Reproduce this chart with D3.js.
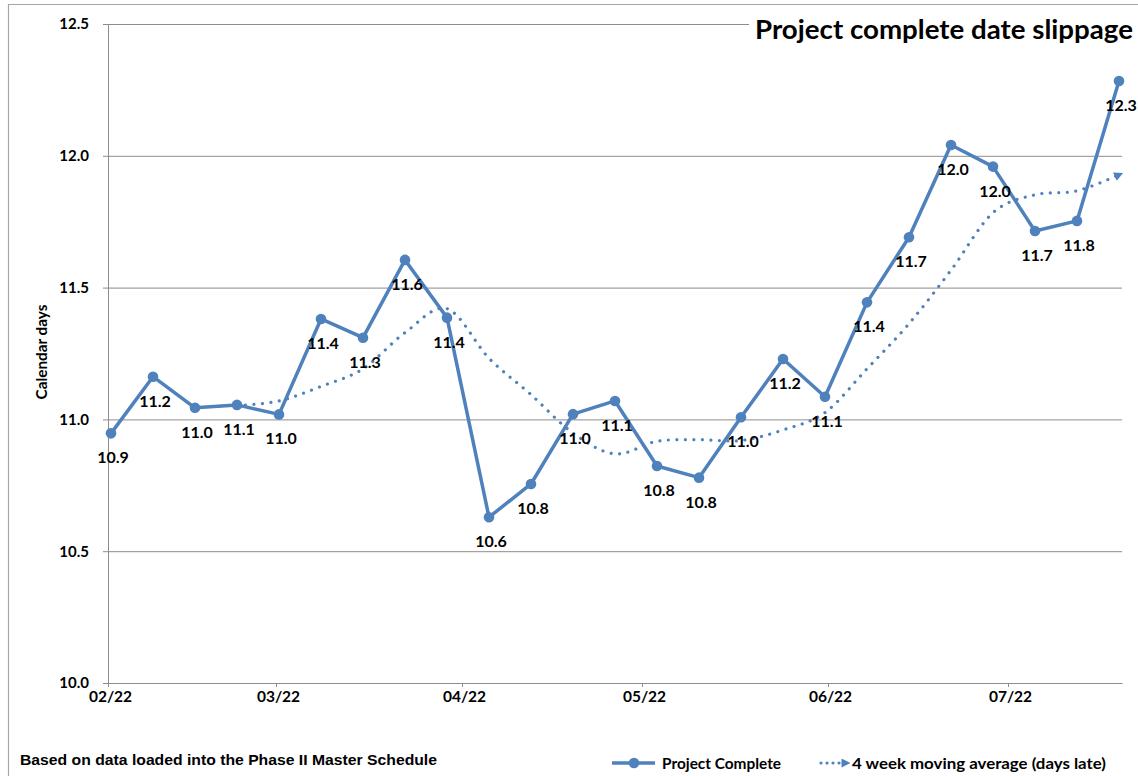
<!DOCTYPE html>
<html>
<head>
<meta charset="utf-8">
<script src="https://cdn.jsdelivr.net/npm/d3@7"></script>
<style>
  body { margin: 0; background: #fff; }
  svg { display: block; }
</style>
</head>
<body>
<div id="chart"></div>
<script>
// Weekly snapshots (one per week, Tuesday dates)
const weeks = [
    "2022-02-01", "2022-02-08", "2022-02-15", "2022-02-22",
    "2022-03-01", "2022-03-08", "2022-03-15", "2022-03-22", "2022-03-29",
    "2022-04-05", "2022-04-12", "2022-04-19", "2022-04-26",
    "2022-05-03", "2022-05-10", "2022-05-17", "2022-05-24", "2022-05-31",
    "2022-06-07", "2022-06-14", "2022-06-21", "2022-06-28",
    "2022-07-05", "2022-07-12", "2022-07-19"
];

// Project Complete (calendar days late)
const completeValues = [
    10.947, 11.162, 11.044, 11.055, 11.019, 11.381, 11.310, 11.605, 11.386,
    10.629, 10.755, 11.020, 11.070, 10.823, 10.779, 11.008, 11.229, 11.086,
    11.444, 11.691, 12.041, 11.959, 11.715, 11.753, 12.284
];

// 4 week moving average, starts at the 4th week
const avgWeeks = weeks.slice(3);
const avgValues = [
    11.052, 11.070, 11.125, 11.192, 11.329, 11.420, 11.232, 11.094, 10.948,
    10.869, 10.917, 10.923, 10.920, 10.960, 11.026, 11.192, 11.363, 11.566,
    11.784, 11.852, 11.867, 11.928
];

const monthTicks = ["2022-02-01", "2022-03-01", "2022-04-01", "2022-05-01", "2022-06-01", "2022-07-01"];
const yTicks = [10.0, 10.5, 11.0, 11.5, 12.0, 12.5];

const blue = "#4f81bd";
const grid = "#8c8c8c";
const calibri = "Lato, 'Open Sans', sans-serif";

const W = 1138, H = 776;
const margin = { top: 24, right: 16, bottom: 93, left: 108 };
const width = W - margin.left - margin.right;
const height = H - margin.top - margin.bottom;

const parse = d3.timeParse("%Y-%m-%d");
// points sit in the middle of their day (date axis)
const mid = s => d3.timeHour.offset(parse(s), 12);

const complete = weeks.map((w, i) => ({ date: mid(w), value: completeValues[i] }));
const average = avgWeeks.map((w, i) => ({ date: mid(w), value: avgValues[i] }));

const svg = d3.select("#chart")
    .append("svg")
    .attr("width", W)
    .attr("height", H);

// chart area border (left + top)
svg.append("path")
    .attr("d", `M8.5,${H} V4.5 H${W}`)
    .attr("fill", "none")
    .attr("stroke", "#a6a6a6")
    .attr("stroke-width", 1.2);

const g = svg.append("g")
    .attr("transform", `translate(${margin.left},${margin.top})`);

// Scales
const x = d3.scaleTime()
    .domain([parse("2022-02-01"), parse("2022-07-20")])
    .range([0, width]);

const y = d3.scaleLinear()
    .domain([10, 12.5])
    .range([height, 0]);

// Gridlines + y axis
const yAxis = g.append("g")
    .call(d3.axisLeft(y).tickValues(yTicks).tickFormat(d3.format(".1f"))
        .tickSize(-width - 5).tickPadding(12));
yAxis.select(".domain").remove();
yAxis.selectAll("line")
    .attr("x1", -5)
    .attr("x2", width)
    .attr("stroke", grid);
yAxis.selectAll("text")
    .attr("x", -19)
    .style("font-family", calibri)
    .style("font-weight", "bold")
    .style("font-size", "15px")
    .attr("fill", "#000");

// vertical axis line
g.append("line")
    .attr("x1", 0.5).attr("x2", 0.5)
    .attr("y1", 0).attr("y2", height)
    .attr("stroke", grid);

// x axis
const xAxis = g.append("g")
    .attr("transform", `translate(0,${height})`)
    .call(d3.axisBottom(x).tickValues(monthTicks.map(parse))
        .tickFormat(d3.timeFormat("%m/%y")).tickSize(4).tickSizeOuter(0).tickPadding(4));
xAxis.select(".domain").attr("stroke", grid);
xAxis.selectAll("line").attr("stroke", grid);
xAxis.selectAll("text")
    .attr("dx", 2)
    .style("font-family", calibri)
    .style("font-weight", "bold")
    .style("font-size", "15.5px")
    .attr("fill", "#000");

// axis title
svg.append("text")
    .attr("transform", "translate(47,352) rotate(-90)")
    .attr("text-anchor", "middle")
    .attr("textLength", 95)
    .attr("lengthAdjust", "spacingAndGlyphs")
    .style("font-family", calibri)
    .style("font-weight", "bold")
    .style("font-size", "15px")
    .text("Calendar days");

// arrow head for the moving average
svg.append("defs").append("marker")
    .attr("id", "arrow")
    .attr("viewBox", "0 0 10 10")
    .attr("refX", 5).attr("refY", 5)
    .attr("markerWidth", 11).attr("markerHeight", 9)
    .attr("markerUnits", "userSpaceOnUse")
    .attr("orient", "auto")
    .append("path")
    .attr("d", "M0,0 L10,5 L0,10 Z")
    .attr("fill", blue);

// 4 week moving average (smoothed, dotted)
g.append("path")
    .datum(average)
    .attr("fill", "none")
    .attr("stroke", blue)
    .attr("stroke-width", 3.2)
    .attr("stroke-linecap", "round")
    .attr("stroke-dasharray", "0.01 8.5")
    .attr("marker-end", "url(#arrow)")
    .attr("d", d3.line()
        .x(d => x(d.date))
        .y(d => y(d.value))
        .curve(d3.curveCardinal.tension(0)));

// Project Complete line
g.append("path")
    .datum(complete)
    .attr("fill", "none")
    .attr("stroke", blue)
    .attr("stroke-width", 3.5)
    .attr("stroke-linejoin", "round")
    .attr("d", d3.line()
        .x(d => x(d.date))
        .y(d => y(d.value)));

g.selectAll(".dot")
    .data(complete)
    .enter()
    .append("circle")
    .attr("class", "dot")
    .attr("cx", d => x(d.date))
    .attr("cy", d => y(d.value))
    .attr("r", 5.3)
    .attr("fill", blue);

// data labels below each point
g.selectAll(".label")
    .data(complete)
    .enter()
    .append("text")
    .attr("class", "label")
    .attr("x", d => x(d.date) + 2)
    .attr("y", d => y(d.value) + 30)
    .attr("text-anchor", "middle")
    .style("font-family", calibri)
    .style("font-weight", "bold")
    .style("font-size", "16px")
    .text(d => d3.format(".1f")(d.value));

// Title (sits on a white box over the top gridline)
svg.append("rect")
    .attr("x", 749).attr("y", 10)
    .attr("width", W - 749).attr("height", 36)
    .attr("fill", "#fff");
svg.append("text")
    .attr("x", 755)
    .attr("y", 39)
    .attr("textLength", 378)
    .attr("lengthAdjust", "spacingAndGlyphs")
    .style("font-family", calibri)
    .style("font-weight", "bold")
    .style("font-size", "26px")
    .text("Project complete date slippage");

// footnote
svg.append("text")
    .attr("x", 20)
    .attr("y", 765)
    .attr("textLength", 417)
    .attr("lengthAdjust", "spacingAndGlyphs")
    .style("font-family", "'Liberation Sans', Arial, sans-serif")
    .style("font-weight", "bold")
    .style("font-size", "15px")
    .text("Based on data loaded into the Phase II Master Schedule");

// Legend
const legend = svg.append("g").attr("transform", "translate(0,763)");
legend.append("line")
    .attr("x1", 612).attr("x2", 655)
    .attr("stroke", blue).attr("stroke-width", 3.5);
legend.append("circle")
    .attr("cx", 634).attr("r", 5.3).attr("fill", blue);
legend.append("text")
    .attr("x", 662).attr("y", 5.5)
    .attr("textLength", 119)
    .attr("lengthAdjust", "spacingAndGlyphs")
    .style("font-family", calibri)
    .style("font-weight", "bold")
    .style("font-size", "15px")
    .text("Project Complete");

legend.append("line")
    .attr("x1", 821).attr("x2", 846)
    .attr("stroke", blue).attr("stroke-width", 3.2)
    .attr("stroke-linecap", "round")
    .attr("stroke-dasharray", "0.01 6")
    .attr("marker-end", "url(#arrow)");
legend.append("text")
    .attr("x", 852).attr("y", 5.5)
    .attr("textLength", 254)
    .attr("lengthAdjust", "spacingAndGlyphs")
    .style("font-family", calibri)
    .style("font-weight", "bold")
    .style("font-size", "15px")
    .text("4 week moving average (days late)");
</script>
</body>
</html>
